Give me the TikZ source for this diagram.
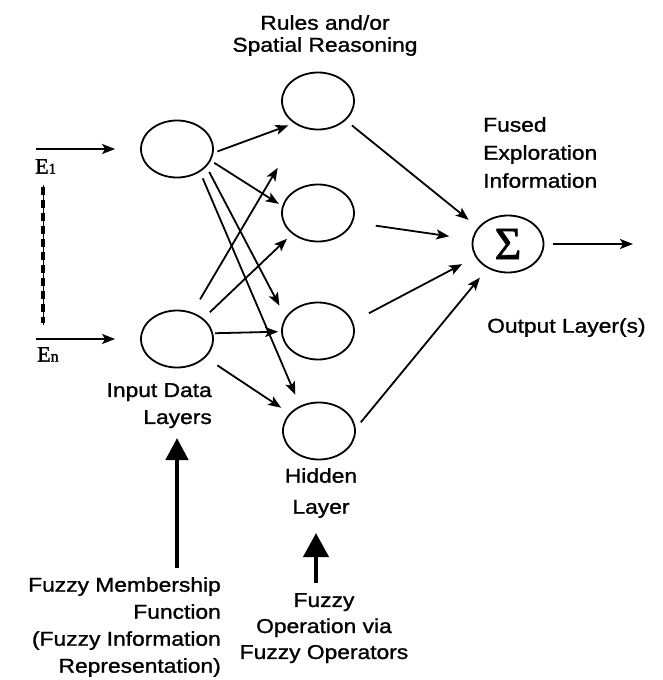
\documentclass[tikz,border=0pt]{standalone}
\usepackage{fontspec}
\setmainfont{Liberation Sans}[FakeStretch=1.14,FakeBold=1.2]
\newfontfamily\serifE{Liberation Serif}[FakeBold=1.5]
\usetikzlibrary{arrows.meta,shapes.geometric}

\tikzset{
  unit/.style={draw, ellipse, line width=1.8pt, minimum width=72pt, minimum height=57pt, inner sep=0pt},
  conn/.style={line width=1.8pt, -{Stealth[length=13pt,width=10pt,inset=3pt]}},
  bigarrow/.style={line width=4.5pt, -{Triangle[length=22pt,width=22pt]}},
  txt/.style={inner sep=0pt, font=\fontsize{20}{27}\selectfont},
  elabel/.style={inner sep=0pt, anchor=north west, font=\serifE\fontsize{22}{22}\selectfont}
}

\begin{document}
\begin{tikzpicture}[x=1pt,y=-1pt]
\useasboundingbox (0,0) rectangle (663,680);

% input, hidden and output units
\node[unit] (i1) at (177,149) {};
\node[unit] (i2) at (177,339) {};
\node[unit] (h1) at (318,101) {};
\node[unit] (h2) at (318,213) {};
\node[unit] (h3) at (318,331) {};
\node[unit] (h4) at (319,431) {};
\node[unit, minimum width=71pt] (s) at (508,244) {\serifE\fontsize{46}{46}\selectfont Σ};

% external inputs
\coordinate (e1in) at (36,149);
\coordinate (enin) at (36,339);
\coordinate (sout) at (633,244);
\draw[conn, shorten >=25pt] (e1in) -- (i1.west);
\draw[conn, shorten >=25pt] (enin) -- (i2.west);
\draw[conn, shorten <=9pt] (s.east) -- (sout);

\node[elabel] (e1) at (35,159) {E{\fontsize{15}{15}\selectfont 1}};
\node[elabel] (en) at (37,347) {E{\fontsize{16}{16}\selectfont n}};

% dotted range between E1 and En
\coordinate (dtop) at (43,185);
\coordinate (dbot) at (43,325);
\draw[line width=0.8pt] (dtop) -- (dbot);
\draw[line width=3.6pt, dash pattern=on 8pt off 5pt] ([yshift=-2pt]dtop) -- ([yshift=2pt]dbot);

% input layer to hidden layer
\draw[conn, shorten <=4pt, shorten >=6pt]  (i1.-6)  -- (h1.-137);
\draw[conn, shorten <=4pt, shorten >=4pt]  (i1.-19) -- (h2.169);
\draw[conn, shorten <=6pt, shorten >=13pt] (i1.-31) -- (h3.157);
\draw[conn, shorten <=7pt, shorten >=12pt] (i1.-45) -- (h4.127);
\draw[conn, shorten <=15pt, shorten >=47pt] (i2.60) -- (h1.-122);
\draw[conn, shorten <=9pt, shorten >=7pt]  (i2.38)  -- (h2.-141);
\draw[conn, shorten <=2pt, shorten >=3pt]  (i2.9)   -- (h3.181);
\draw[conn, shorten <=14pt, shorten >=10pt] (i2.-33) -- (h4.149);

% hidden layer to summation
\draw[conn, shorten <=8pt, shorten >=12pt]  (h1.-35) -- (s.151);
\draw[conn, shorten <=23pt, shorten >=23pt] (h2.-15) -- (s.173);
\draw[conn, shorten <=18pt, shorten >=15pt] (h3.15)  -- (s.-158);
\draw[conn, shorten <=8pt, shorten >=12pt]  (h4.4)   -- (s.-130);

% labels
\node[txt, font=\fontsize{20}{22}\selectfont, align=center, anchor=north] (rules) at (325,15) {Rules and/or\\Spatial Reasoning};
\node[txt, font=\fontsize{20}{28}\selectfont, align=left, anchor=north west] (fused) at (483,117) {Fused\\Exploration\\Information};
\node[txt, align=right, anchor=north east] (inlab) at (212,383) {Input Data\\Layers};
\node[txt, font=\fontsize{20}{31}\selectfont, align=center, anchor=north] (hidlab) at (321,468) {Hidden\\Layer};
\node[txt, anchor=north west] (outlab) at (487,318) {Output Layer(s)};
\node[txt, align=right, anchor=north east] (memb) at (221,577) {Fuzzy Membership\\Function\\(Fuzzy Information\\Representation)};
\node[txt, font=\fontsize{20}{26}\selectfont, align=center, anchor=north] (oper) at (324,593) {Fuzzy\\Operation via\\Fuzzy Operators};

% fuzzy processing arrows
\coordinate (mb) at (177,568);
\coordinate (mt) at (177,438);
\draw[bigarrow] (mb) -- (mt);
\coordinate (ob) at (316,583);
\coordinate (ot) at (316,533);
\draw[line width=4pt, -{Triangle[length=24pt,width=25pt]}] (ob) -- (ot);
\end{tikzpicture}
\end{document}
